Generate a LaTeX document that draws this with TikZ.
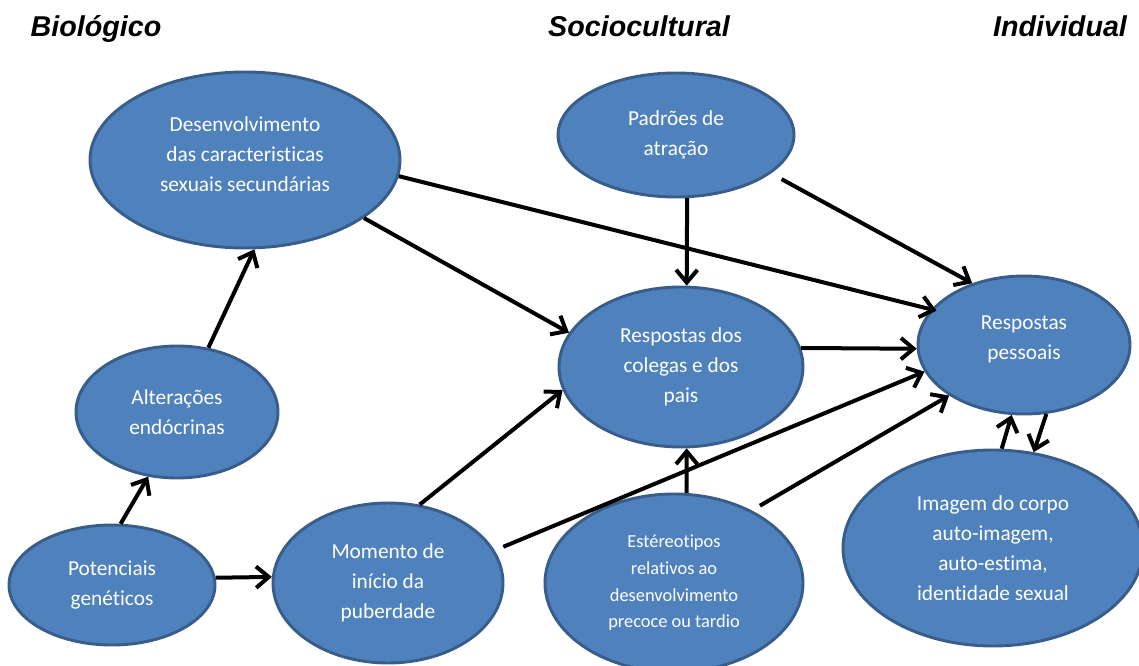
\documentclass[tikz,border=0pt]{standalone}
\usepackage{fontspec}
\setmainfont{Carlito}[Ligatures=NoCommon]
\newfontfamily\headfont{Liberation Sans}
\usepackage{xcolor}
\usepackage{tikz}
\usetikzlibrary{shapes.geometric, arrows.meta}

\definecolor{bubblefill}{HTML}{4F81BD}
\definecolor{bubbleline}{HTML}{385D8A}

\begin{document}
\begin{tikzpicture}[x=0.75pt, y=-0.75pt,
    bubble/.style={draw=bubbleline, line width=2.2pt, fill=bubblefill, ellipse, inner sep=0pt,
        align=center, text=white, font=\fontsize{16}{22.5}\selectfont},
    head/.style={anchor=base, font=\headfont\bfseries\itshape\fontsize{21.5}{26}\selectfont},
    link/.style={line width=3pt, -{Straight Barb[length=9.5pt,width=16pt]}}]
    \useasboundingbox (0,0) rectangle (1139,666);

    \node[head] at (96,37) (bio) {Biológico};
    \node[head] at (639,37) (soc) {Sociocultural};
    \node[head] at (1060,37) (ind) {Individual};

    \node[bubble, minimum width=232.5pt, minimum height=132pt, text depth=9pt] at (245,160) (dev) {Desenvolvimento\\das caracteristicas\\sexuais secundárias};
    \node[bubble, minimum width=177pt, minimum height=93pt] at (676,135) (pad) {Padrões de\\atração};
    \node[bubble, minimum width=151.5pt, minimum height=99pt] at (177,412) (endo) {Alterações\\endócrinas};
    \node[bubble, minimum width=183pt, minimum height=120pt] at (681,367) (col) {Respostas dos\\colegas e dos\\pais};
    \node[bubble, minimum width=159pt, minimum height=103.5pt, text depth=10.5pt] at (1024,345) (pes) {Respostas\\pessoais};
    \node[bubble, minimum width=154.5pt, minimum height=90pt] at (112,585) (gen) {Potenciais\\genéticos};
    \node[bubble, minimum width=172.5pt, minimum height=120pt] at (388,583) (mom) {Momento de\\início da\\puberdade};
    \node[bubble, minimum width=193.5pt, minimum height=133.5pt, font=\fontsize{13.8}{20}\selectfont] at (674,583) (est) {Estéreotipos\\relativos ao\\desenvolvimento\\precoce ou tardio};
    \node[bubble, minimum width=225pt, minimum height=147pt] at (993,548) (img) {Imagem do corpo\\auto-imagem,\\auto-estima,\\identidade sexual};

    \draw[link] (gen.82) -- (endo.-114);
    \draw[link] (endo.64) -- (dev.-84);
    \draw[link] (gen.4) -- (mom.177);
    \draw[link] (dev.-26) -- (col.163);
    \draw[link, shorten >=-4pt] (dev.-6) -- (pes.159);
    \draw[link] (pad.-80) -- (col.86);
    \draw[link, shorten <=9pt] (pad.-22) -- (pes.130);
    \draw[link] (col.9) -- (pes.182);
    \draw[link] (mom.68) -- (col.191);
    \draw[link, shorten <=7pt] (mom.17) -- (pes.195);
    \draw[link] (est.82) -- (col.-86);
    \draw[link, shorten <=7pt] (est.43) -- (pes.214);
    \draw[link] (img.85) -- (pes.-100);
    \draw[link] (pes.-72) -- (img.67);
\end{tikzpicture}
\end{document}
